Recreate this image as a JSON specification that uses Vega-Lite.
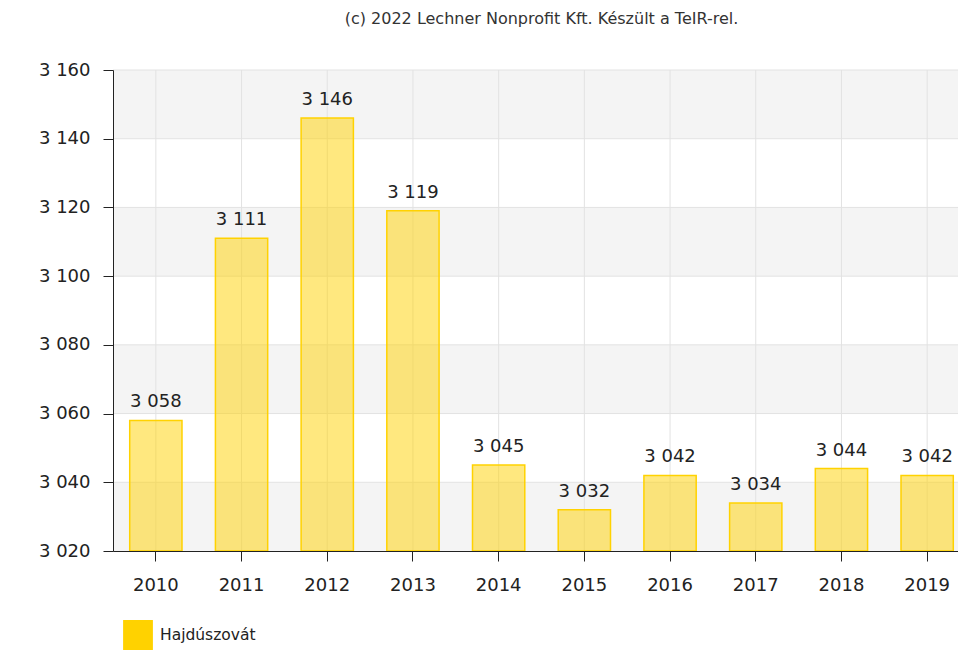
{
  "$schema": "https://vega.github.io/schema/vega-lite/v6.json",
  "width": 857,
  "height": 481,
  "padding": {"top": 11, "left": 38, "right": 0, "bottom": 5},
  "background": "white",
  "title": {
    "text": "(c) 2022 Lechner Nonprofit Kft. Készült a TeIR-rel.",
    "fontSize": 16,
    "fontWeight": "normal",
    "color": "#333333",
    "font": "DejaVu Sans",
    "anchor": "middle",
    "offset": 34
  },
  "datasets": {
    "bars": [
      {"ev": "2010", "nepesseg": 3058, "telepules": "Hajdúszovát"},
      {"ev": "2011", "nepesseg": 3111, "telepules": "Hajdúszovát"},
      {"ev": "2012", "nepesseg": 3146, "telepules": "Hajdúszovát"},
      {"ev": "2013", "nepesseg": 3119, "telepules": "Hajdúszovát"},
      {"ev": "2014", "nepesseg": 3045, "telepules": "Hajdúszovát"},
      {"ev": "2015", "nepesseg": 3032, "telepules": "Hajdúszovát"},
      {"ev": "2016", "nepesseg": 3042, "telepules": "Hajdúszovát"},
      {"ev": "2017", "nepesseg": 3034, "telepules": "Hajdúszovát"},
      {"ev": "2018", "nepesseg": 3044, "telepules": "Hajdúszovát"},
      {"ev": "2019", "nepesseg": 3042, "telepules": "Hajdúszovát"}
    ],
    "bands": [
      {"also": 3140, "felso": 3160},
      {"also": 3100, "felso": 3120},
      {"also": 3060, "felso": 3080},
      {"also": 3020, "felso": 3040}
    ],
    "racs": [
      {"ertek": 3040}, {"ertek": 3060}, {"ertek": 3080}, {"ertek": 3100},
      {"ertek": 3120}, {"ertek": 3140}, {"ertek": 3160}
    ]
  },
  "layer": [
    {
      "data": {"name": "bands"},
      "mark": {"type": "rect", "fill": "#f4f4f4"},
      "encoding": {
        "y": {
          "field": "felso", "type": "quantitative",
          "scale": {"domain": [3020, 3160], "zero": false, "nice": false},
          "axis": {
            "title": null, "values": [3020, 3040, 3060, 3080, 3100, 3120, 3140, 3160],
            "format": ",d", "grid": false,
            "domainColor": "#222222", "tickColor": "#222222", "tickSize": 10,
            "labelFontSize": 18, "labelColor": "#222222", "labelFont": "DejaVu Sans",
            "labelPadding": 13, "zindex": 1
          }
        },
        "y2": {"field": "also"}
      }
    },
    {
      "data": {"name": "racs"},
      "mark": {"type": "rule", "color": "#e2e2e2", "strokeWidth": 1},
      "encoding": {
        "y": {"field": "ertek", "type": "quantitative"}
      }
    },
    {
      "data": {"name": "bars"},
      "mark": {"type": "rule", "color": "#e2e2e2", "strokeWidth": 1},
      "encoding": {
        "x": {
          "field": "ev", "type": "ordinal",
          "scale": {"paddingInner": 0.39, "paddingOuter": 0.195},
          "axis": {
            "title": null, "labelAngle": 0, "grid": false,
            "domainColor": "#222222", "tickColor": "#222222", "tickSize": 10,
            "labelFontSize": 18, "labelColor": "#222222", "labelFont": "DejaVu Sans",
            "labelPadding": 15, "zindex": 1
          }
        }
      }
    },
    {
      "data": {"name": "bars"},
      "mark": {"type": "bar", "fillOpacity": 0.5, "strokeWidth": 1.5, "strokeOpacity": 1, "cornerRadius": 0},
      "encoding": {
        "x": {
          "field": "ev", "type": "ordinal",
          "axis": {
            "title": null, "labelAngle": 0, "grid": false,
            "domainColor": "#222222", "tickColor": "#222222", "tickSize": 10,
            "labelFontSize": 18, "labelColor": "#222222", "labelFont": "DejaVu Sans",
            "labelPadding": 15, "zindex": 1
          }
        },
        "y": {"field": "nepesseg", "type": "quantitative"},
        "y2": {"datum": 3020},
        "color": {
          "field": "telepules", "type": "nominal",
          "scale": {"range": ["#FFD200"]},
          "legend": {
            "title": null, "orient": "bottom", "symbolType": "square", "symbolSize": 800,
            "symbolOpacity": 1, "symbolFillColor": "#FFD200", "symbolStrokeColor": "#FFD200",
            "labelFontSize": 15.5, "labelColor": "#222222", "labelFont": "DejaVu Sans",
            "offset": 16, "padding": 10, "labelOffset": 7
          }
        },
        "stroke": {"value": "#FFD200"}
      }
    },
    {
      "data": {"name": "bars"},
      "mark": {"type": "text", "dy": -13, "baseline": "alphabetic", "fontSize": 18, "font": "DejaVu Sans", "color": "#222222"},
      "encoding": {
        "x": {"field": "ev", "type": "ordinal"},
        "y": {"field": "nepesseg", "type": "quantitative"},
        "text": {"field": "nepesseg", "type": "quantitative", "format": ",d"}
      }
    }
  ],
  "config": {
    "locale": {"number": {"decimal": ",", "thousands": " ", "grouping": [3], "currency": ["", " Ft"]}},
    "view": {"stroke": null}
  }
}
